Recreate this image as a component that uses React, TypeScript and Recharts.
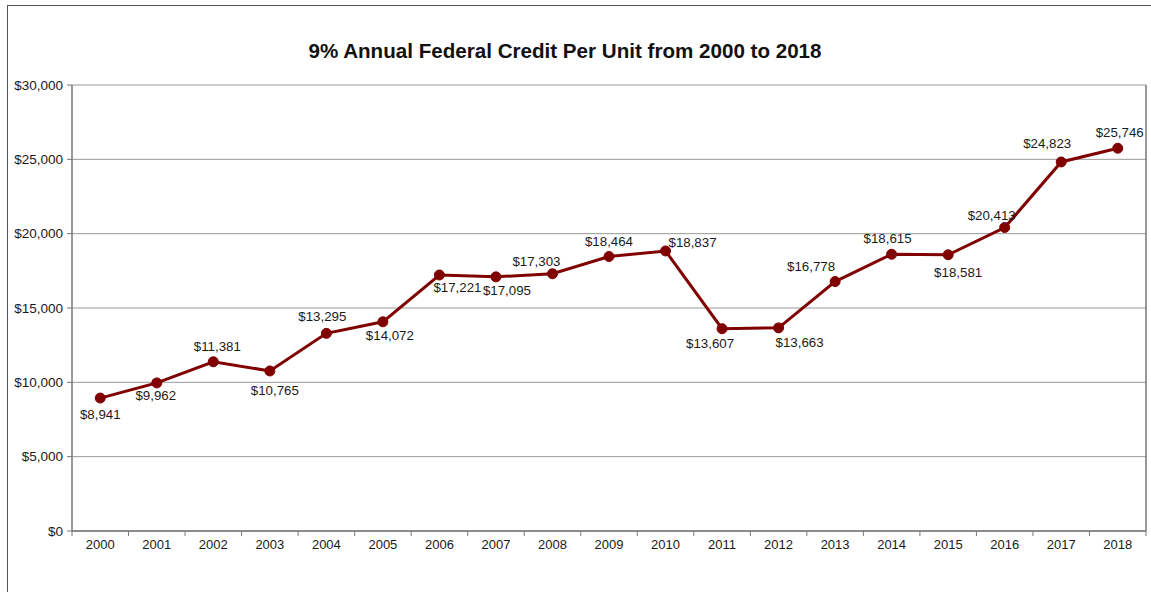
import React from "react";
import { LineChart, Line, XAxis, YAxis, CartesianGrid } from "recharts";

const YEARS = ["2000","2001","2002","2003","2004","2005","2006","2007","2008","2009","2010","2011","2012","2013","2014","2015","2016","2017","2018"];
const CREDIT = [8941, 9962, 11381, 10765, 13295, 14072, 17221, 17095, 17303, 18464, 18837, 13607, 13663, 16778, 18615, 18581, 20413, 24823, 25746];
const Y_TICKS = [0, 5000, 10000, 15000, 20000, 25000, 30000];
const TITLE = "9% Annual Federal Credit Per Unit from 2000 to 2018";

// label nudges relative to each point (dx, dy of label centre)
const LABEL_DX = [0, -1, 4, 5, -4, 7, 18, 11, -16, 0, 27, -12, 21, -24, -4, 10, -13, -14, 2];
const LABEL_DY = [16, 13, -15, 19, -17, 14, 12, 14, -12, -15, -9, 15, 15, -15, -16, 18, -12, -19, -16];

const data = YEARS.map((y, i) => ({ year: y, value: CREDIT[i] }));

const FONT = '"Liberation Sans", Arial, sans-serif';
const money = (v: number) => "$" + Number(v).toLocaleString("en-US");

const XTick = (props: any) => {
  const { x, y, payload, width, visibleTicksCount, index } = props;
  const half = width / visibleTicksCount / 2;
  const axisY = y - 9;
  return (
    <g>
      <line x1={x - half} y1={axisY} x2={x - half} y2={axisY + 5} stroke="#777" strokeWidth={1} />
      {index === visibleTicksCount - 1 && (
        <line x1={x + half} y1={axisY} x2={x + half} y2={axisY + 5} stroke="#777" strokeWidth={1} />
      )}
      <text x={x} y={y} dy="0.71em" textAnchor="middle" fill="#1a1a1a" fontSize={13} fontFamily={FONT}>
        {payload.value}
      </text>
    </g>
  );
};

const renderLabel = (props: any) => {
  const { x, y, value, index } = props;
  return (
    <text
      key={"lbl" + index}
      x={x + LABEL_DX[index]}
      y={y + LABEL_DY[index] + 4.6}
      textAnchor="middle"
      fill="#1a1a1a"
      fontSize={13.3}
      fontFamily={FONT}
    >
      {money(value)}
    </text>
  );
};

export default function App() {
  return (
    <div
      style={{
        position: "absolute",
        top: 5,
        left: 7,
        width: 1143,
        height: 586,
        borderTop: "1px solid #555",
        borderLeft: "1px solid #555",
        background: "#fff",
      }}
    >
      <div
        style={{
          position: "absolute",
          top: 34,
          left: 0,
          width: 1114,
          textAlign: "center",
          fontFamily: FONT,
          fontWeight: "bold",
          fontSize: 20.6,
          lineHeight: "22px",
          color: "#111",
        }}
      >
        {TITLE}
      </div>
      <LineChart width={1143} height={586} data={data} margin={{ top: 79, right: 3, bottom: 31, left: 0 }}>
        <CartesianGrid vertical={false} stroke="#999" strokeWidth={1} yAxisId="left" />
        <XAxis
          dataKey="year"
          scale="band"
          height={30}
          tickSize={5}
          tickMargin={4}
          tickLine={false}
          interval={0}
          axisLine={{ stroke: "#777", strokeWidth: 1.5 }}
          tick={<XTick />}
        />
        <YAxis
          yAxisId="left"
          width={64}
          domain={[0, 30000]}
          ticks={Y_TICKS}
          interval={0}
          tickSize={5}
          tickMargin={4}
          tickFormatter={money}
          axisLine={{ stroke: "#777", strokeWidth: 1.5 }}
          tickLine={{ stroke: "#777" }}
          tick={{ fill: "#1a1a1a", fontSize: 13.5, fontFamily: FONT }}
        />
        <YAxis
          yAxisId="right"
          orientation="right"
          width={2}
          domain={[0, 30000]}
          tick={false}
          tickLine={false}
          axisLine={{ stroke: "#777", strokeWidth: 1.5 }}
        />
        <Line
          yAxisId="left"
          type="linear"
          dataKey="value"
          stroke="#800000"
          strokeWidth={3}
          dot={{ r: 5, fill: "#800000", stroke: "#800000", strokeWidth: 1 }}
          activeDot={false}
          label={renderLabel}
          isAnimationActive={false}
        />
      </LineChart>
    </div>
  );
}
